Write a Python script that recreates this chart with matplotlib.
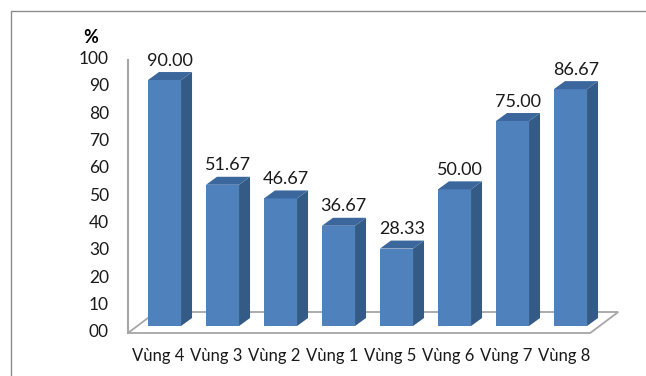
import matplotlib.pyplot as plt
from matplotlib.patches import Polygon
from matplotlib.lines import Line2D

regions = ["Vùng 4", "Vùng 3", "Vùng 2", "Vùng 1", "Vùng 5", "Vùng 6", "Vùng 7", "Vùng 8"]
values = [90.00, 51.67, 46.67, 36.67, 28.33, 50.00, 75.00, 86.67]
y_ticks = [0, 10, 20, 30, 40, 50, 60, 70, 80, 90, 100]
y_tick_labels = ["00", "10", "20", "30", "40", "50", "60", "70", "80", "90", "100"]

plt.rcParams['font.family'] = ['Lato', 'DejaVu Sans']

FRONT = "#4F81BD"
TOP = "#3C679C"
SIDE = "#345A86"
GRID = "#A6A6A6"

# px per value unit / px per category
SY = 2.733
SX = 58.0
W = 0.285            # half width of bar front
BDX, BDY = 11 / SX, 8 / SY     # bar depth
FDX, FDY = -9.3 / SX, -7 / SY  # front plane offset from bar plane
KDX, KDY = 18.7 / SX, 14 / SY  # back plane offset

fig = plt.figure(figsize=(6.46, 3.76), dpi=100)
ax = fig.add_axes([0, 0, 1, 1])
ax.set_xlim(-164.5 / SX, (646 - 164.5) / SX)
ax.set_ylim((326 - 376) / SY, 326 / SY)
ax.axis("off")

# frame
fig.add_artist(Line2D([11 / 646, 11 / 646, 645 / 646], [-0.1, 1 - 11 / 376, 1 - 11 / 376],
                      transform=fig.transFigure, color="#8C8C8C", lw=1))

n = len(values)
fl, fr = -0.63 - FDX, n - 1 + 0.34 - FDX   # floor extents at bar plane
floor = Polygon([(fl + FDX, FDY), (fr + FDX, FDY), (fr + KDX, KDY), (fl + KDX, KDY)],
                closed=True, facecolor="white", edgecolor=GRID, lw=1.3, zorder=1)
ax.add_patch(floor)

# value axis line
ax.plot([fl + FDX, fl + FDX], [FDY, 100 + FDY], color=GRID, lw=1.5, zorder=2)
for t, lab in zip(y_ticks, y_tick_labels):
    ax.text(-0.957, t + FDY + 0.3, lab, ha="right", va="center", fontsize=12.5, color="#1a1a1a")
ax.text(-1.267, 105.7, "%", ha="center", va="center", fontsize=13, fontweight="bold")

for i, v in enumerate(values):
    x0, x1 = i - W, i + W
    ax.add_patch(Polygon([(x0, 0), (x1, 0), (x1, v), (x0, v)], facecolor=FRONT, edgecolor="none", zorder=3))
    ax.add_patch(Polygon([(x1, 0), (x1 + BDX, BDY), (x1 + BDX, v + BDY), (x1, v)],
                         facecolor=SIDE, edgecolor="none", zorder=3))
    ax.add_patch(Polygon([(x0, v), (x1, v), (x1 + BDX, v + BDY), (x0 + BDX, v + BDY)],
                         facecolor=TOP, edgecolor="none", zorder=3))
    ax.text(i + 0.09, v + BDY + 4.2, f"{v:.2f}", ha="center", va="center", fontsize=13, color="#1a1a1a")
    ax.text(i - 0.11, -11.0, regions[i], ha="center", va="center", fontsize=12, color="#1a1a1a")

fig.savefig("out.png", dpi=100)
